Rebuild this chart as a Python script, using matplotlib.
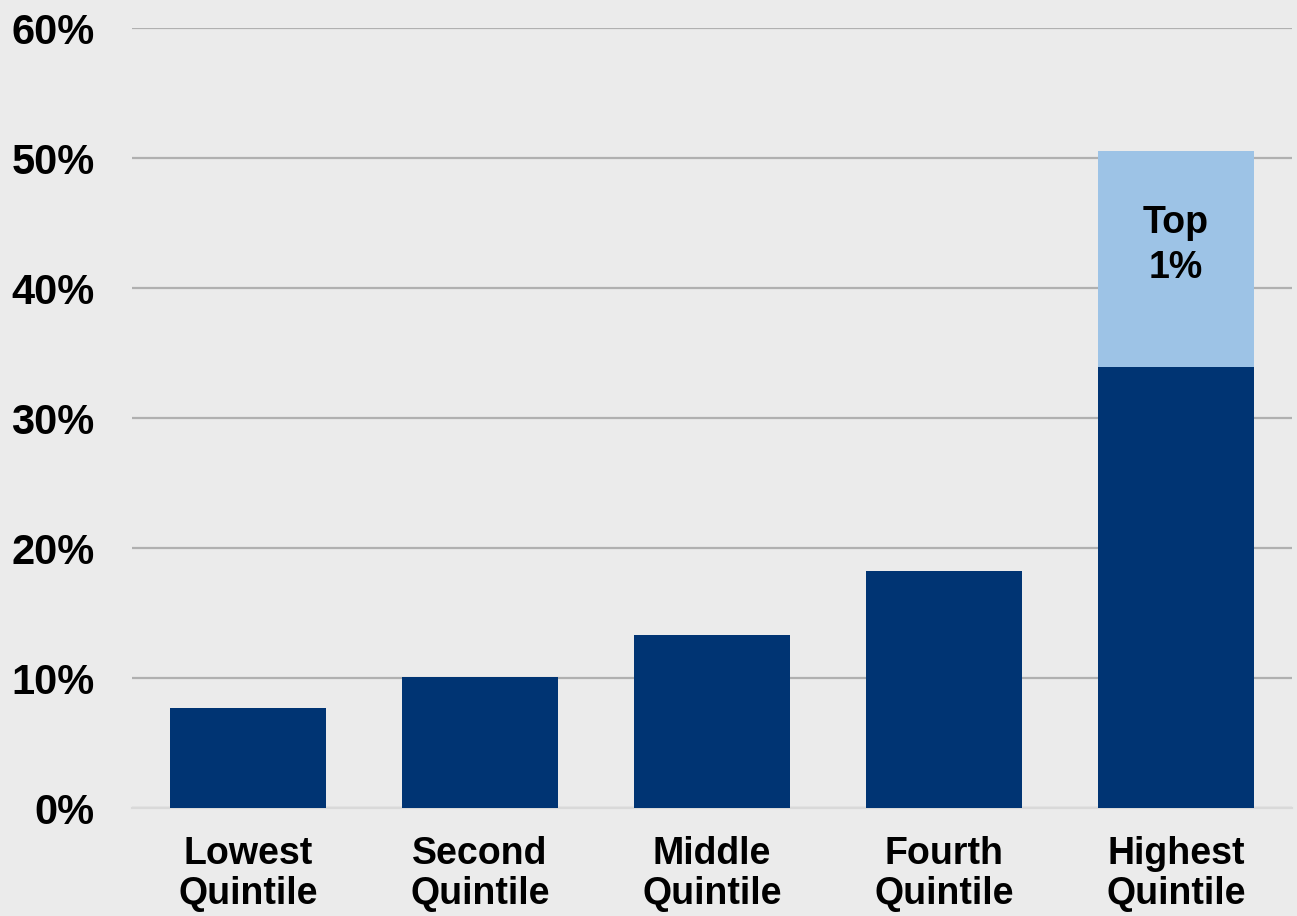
import numpy as np
import matplotlib.pyplot as plt

# share by quintile (%), highest quintile split into rest vs top 1%
categories = ['Lowest\nQuintile', 'Second\nQuintile', 'Middle\nQuintile',
              'Fourth\nQuintile', 'Highest\nQuintile']
base_share = [7.7, 10.1, 13.3, 18.2, 33.9]
top1_share = [0, 0, 0, 0, 16.6]
yticks = [0, 10, 20, 30, 40, 50, 60]

plt.rcParams['font.family'] = ['Liberation Sans', 'DejaVu Sans']
plt.rcParams['font.weight'] = 'bold'

bg = '#ebebeb'
navy = '#003473'
light = '#9dc3e6'

fig = plt.figure(figsize=(12.97, 9.16), dpi=100, facecolor=bg)
ax = fig.add_axes([132 / 1297, 108 / 916, 1160 / 1297, 780 / 916], facecolor=bg)

x = np.arange(len(categories))
ax.bar(x, base_share, width=0.67, color=navy, zorder=3)
ax.bar(x, top1_share, width=0.67, bottom=base_share, color=light, zorder=3)

# label the top 1% segment
i = len(categories) - 1
ax.annotate('Top\n1%', xy=(x[i], base_share[i] + top1_share[i] / 2),
            xytext=(0, 10), textcoords='offset points', ha='center', va='center',
            fontsize=27, fontweight='bold', color='black', linespacing=1.35, zorder=4)

ax.set_xlim(-0.5, 4.5)
ax.set_ylim(0, 60)
ax.set_yticks(yticks)
ax.set_yticklabels([f'{v}%' for v in yticks])
ax.set_xticks(x)
ax.set_xticklabels(categories, linespacing=1.15)

ax.grid(axis='y', color='#b0b0b0', linewidth=1.6, zorder=0)
ax.tick_params(axis='y', length=0, pad=27, labelsize=30)
ax.tick_params(axis='x', length=0, pad=20, labelsize=27)
for side in ['top', 'right', 'left']:
    ax.spines[side].set_visible(False)
ax.spines['bottom'].set_color('#d9d9d9')
ax.spines['bottom'].set_linewidth(1.6)

fig.savefig('out.png', dpi=100, facecolor=bg)
